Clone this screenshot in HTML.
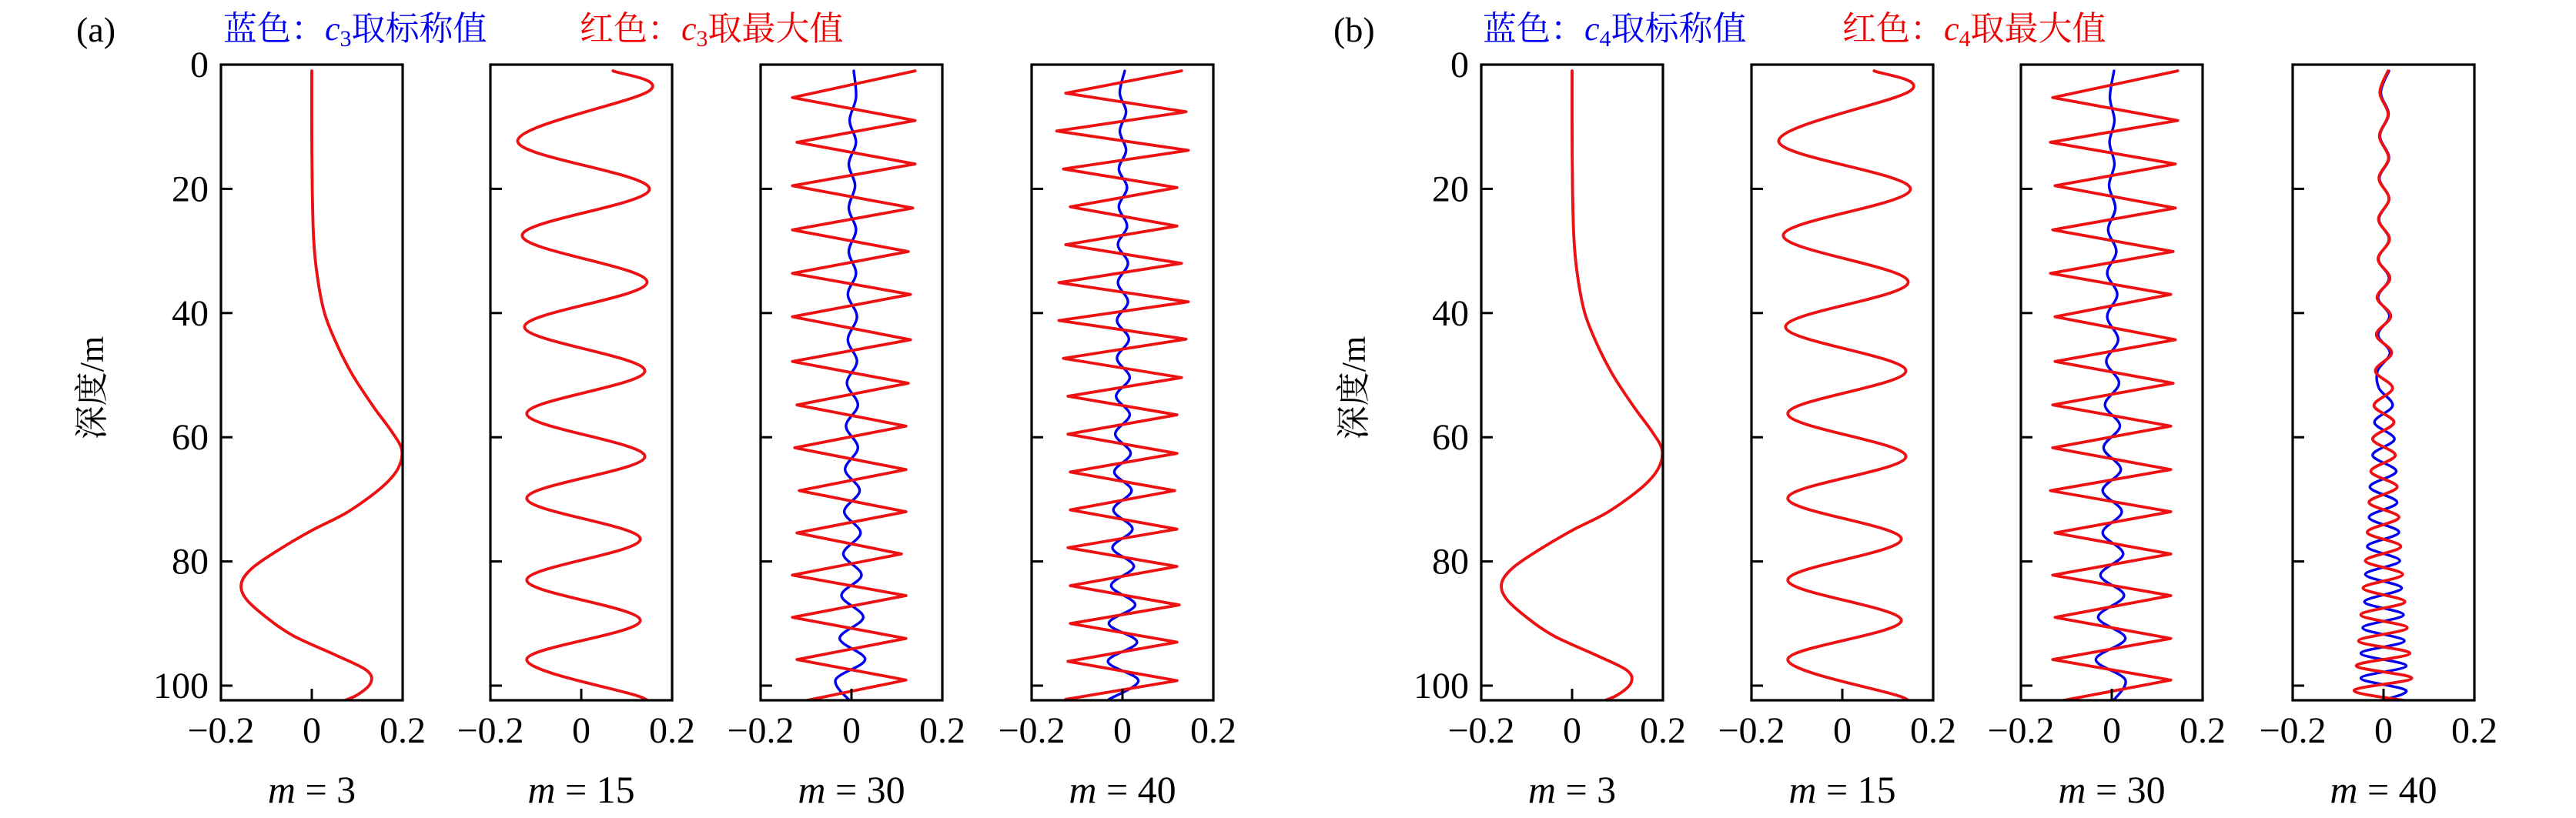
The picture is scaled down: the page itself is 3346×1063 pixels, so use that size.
<!DOCTYPE html>
<html><head><meta charset="utf-8">
<style>
html,body{margin:0;padding:0;background:#fff;}
svg{display:block;}
</style></head>
<body>
<svg id="chart" width="3346" height="1063" viewBox="0 0 3346 1063" xmlns="http://www.w3.org/2000/svg" font-family="'Liberation Serif','Noto Serif CJK SC',serif">
<text x="99" y="54" font-size="46">(a)</text>
<text x="290" y="52" font-size="44" fill="#0000ee">蓝色：<tspan font-style="italic">c</tspan><tspan font-size="30" dy="8">3</tspan><tspan dy="-8">取标称值</tspan></text>
<text x="753" y="52" font-size="44" fill="#ee0000">红色：<tspan font-style="italic">c</tspan><tspan font-size="30" dy="8">3</tspan><tspan dy="-8">取最大值</tspan></text>
<text x="1732" y="54" font-size="46">(b)</text>
<text x="1926" y="52" font-size="44" fill="#0000ee">蓝色：<tspan font-style="italic">c</tspan><tspan font-size="30" dy="8">4</tspan><tspan dy="-8">取标称值</tspan></text>
<text x="2393" y="52" font-size="44" fill="#ee0000">红色：<tspan font-style="italic">c</tspan><tspan font-size="30" dy="8">4</tspan><tspan dy="-8">取最大值</tspan></text>
<text transform="translate(134,504) rotate(-90)" text-anchor="middle" font-size="44">深度/m</text>
<text transform="translate(1773,504) rotate(-90)" text-anchor="middle" font-size="44">深度/m</text>
</svg>
<script>
// ---- data ----
const depthTicks = [0, 20, 40, 60, 80, 100];
const xTicks = [-0.2, 0, 0.2];
const xTickLabels = ["\u22120.2", "0", "0.2"];
const modeLabels = ["3", "15", "30", "40"];

const m3Depths = [1, 10, 20, 28, 34, 40, 45, 50, 55, 59, 62, 65, 68, 72, 75, 78, 81, 83.5, 86, 89, 92, 95, 97.5, 99.5, 101.5, 102.7];
const m3Values = [0, 0, 0.001, 0.004, 0.012, 0.028, 0.055, 0.09, 0.135, 0.175, 0.198, 0.19, 0.155, 0.08, 0.0, -0.07, -0.13, -0.155, -0.145, -0.1, -0.04, 0.05, 0.12, 0.13, 0.1, 0.06];

const m15Depths = [1, 4.2, 12.3, 20.0, 27.5, 35.0, 42.2, 49.3, 56.2, 63.1, 69.8, 76.4, 83.0, 89.5, 95.8, 101.8, 102.7];
const m15Values = [0.07, 0.15, -0.14, 0.15, -0.13, 0.145, -0.125, 0.14, -0.12, 0.14, -0.12, 0.13, -0.12, 0.13, -0.12, 0.13, 0.12];

const m30Depths = [1, 5.3, 9.0, 12.5, 16.0, 19.5, 23.1, 26.6, 30.1, 33.6, 37.0, 40.6, 44.3, 47.8, 51.3, 54.8, 58.2, 61.7, 65.2, 68.6, 72.0, 75.4, 78.8, 82.2, 85.5, 89.0, 92.4, 95.8, 99.1, 102.7];
const m30RedA = [0.14, -0.13, 0.14, -0.12, 0.14, -0.13, 0.135, -0.13, 0.125, -0.13, 0.13, -0.13, 0.13, -0.13, 0.125, -0.12, 0.12, -0.125, 0.12, -0.115, 0.12, -0.12, 0.11, -0.13, 0.12, -0.13, 0.12, -0.12, 0.12, -0.12];
const m30BlueA = [0.005, 0.01, -0.004, 0.01, -0.006, 0.008, -0.006, 0.01, -0.006, 0.01, -0.008, 0.012, -0.008, 0.012, -0.01, 0.014, -0.012, 0.014, -0.014, 0.018, -0.016, 0.02, -0.018, 0.022, -0.022, 0.026, -0.026, 0.03, -0.035, 0.0];
const m30RedB = [0.145, -0.13, 0.145, -0.135, 0.14, -0.125, 0.14, -0.13, 0.135, -0.135, 0.13, -0.125, 0.14, -0.125, 0.135, -0.13, 0.13, -0.13, 0.13, -0.135, 0.13, -0.125, 0.13, -0.13, 0.13, -0.125, 0.13, -0.13, 0.13, -0.13];
const m30BlueB = [0.005, -0.004, 0.006, -0.005, 0.006, -0.006, 0.008, -0.008, 0.01, -0.01, 0.012, -0.01, 0.014, -0.012, 0.016, -0.015, 0.018, -0.018, 0.02, -0.02, 0.022, -0.02, 0.025, -0.025, 0.027, -0.03, 0.03, -0.035, 0.03, 0.0];

const m40Depths = [1, 4.6, 7.6, 10.7, 13.8, 16.8, 19.8, 22.9, 26.0, 29.0, 32.0, 35.1, 38.2, 41.2, 44.2, 47.3, 50.4, 53.4, 56.4, 59.5, 62.6, 65.6, 68.6, 71.7, 74.8, 77.8, 80.8, 83.9, 87.0, 90.0, 93.0, 96.1, 99.2, 102.2];
const m40RedA = [0.13, -0.125, 0.14, -0.145, 0.145, -0.13, 0.12, -0.115, 0.12, -0.125, 0.13, -0.14, 0.145, -0.14, 0.14, -0.13, 0.13, -0.12, 0.12, -0.12, 0.12, -0.115, 0.115, -0.115, 0.12, -0.12, 0.12, -0.115, 0.125, -0.115, 0.12, -0.12, 0.12, -0.125];
const m40BlueA = [0.005, -0.006, 0.008, -0.006, 0.008, -0.008, 0.01, -0.008, 0.01, -0.01, 0.012, -0.01, 0.012, -0.012, 0.014, -0.012, 0.016, -0.014, 0.016, -0.016, 0.018, -0.018, 0.02, -0.02, 0.022, -0.022, 0.025, -0.025, 0.028, -0.03, 0.032, -0.032, 0.035, -0.03];

const b40Depths = [1, 4.5, 8, 11.5, 15, 18.3, 21.6, 24.9, 28.1, 31.3, 34.4, 37.5, 40.5, 43.5, 46.4, 49.3, 52.1, 54.9, 57.6, 60.3, 62.9, 65.5, 68, 70.5, 72.9, 75.3, 77.6, 79.9, 82.1, 84.3, 86.5, 88.6, 90.7, 92.8, 94.8, 96.8, 98.8, 100.8, 102.7];
const b40Red = [0.01, -0.008, 0.01, -0.009, 0.011, -0.01, 0.012, -0.011, 0.013, -0.012, 0.014, -0.014, 0.016, -0.016, 0.018, -0.018, 0.02, -0.021, 0.023, -0.024, 0.026, -0.028, 0.03, -0.032, 0.034, -0.036, 0.038, -0.04, 0.042, -0.045, 0.047, -0.05, 0.052, -0.055, 0.058, -0.06, 0.062, -0.065, 0.075];
const b40Blue = [0.012, -0.006, 0.011, -0.008, 0.012, -0.009, 0.012, -0.01, 0.012, -0.011, 0.012, -0.012, 0.013, -0.012, 0.014, -0.013, -0.01, 0.02, -0.02, 0.024, -0.024, 0.028, -0.03, 0.03, -0.032, 0.034, -0.036, 0.036, -0.04, 0.04, -0.042, 0.044, -0.046, 0.046, -0.05, 0.05, -0.05, 0.05, -0.02];

// ---- layout ----
const svg = document.getElementById('chart');
const NS = 'http://www.w3.org/2000/svg';
const TOP = 84, BOTTOM = 910, W = 236;
const DEPTH_SCALE = 8.07;
const panelLefts = [287, 637, 988, 1340, 1924, 2275, 2625, 2978];
function yOf(d) { return TOP + d * DEPTH_SCALE; }
function xOf(left, v) { return left + W / 2 + v * (W / 0.4); }

function mk(tag, attrs) {
  const e = document.createElementNS(NS, tag);
  for (const k in attrs) e.setAttribute(k, attrs[k]);
  svg.appendChild(e);
  return e;
}
function smoothPath(left, ds, vs) {
  const p = ds.map((d, i) => [xOf(left, vs[i]), yOf(d)]);
  let s = 'M' + p[0][0].toFixed(1) + ',' + p[0][1].toFixed(1);
  for (let i = 0; i < p.length - 1; i++) {
    const p0 = p[Math.max(0, i - 1)], p1 = p[i], p2 = p[i + 1], p3 = p[Math.min(p.length - 1, i + 2)];
    const c1 = [p1[0] + (p2[0] - p0[0]) / 6, p1[1] + (p2[1] - p0[1]) / 6];
    const c2 = [p2[0] - (p3[0] - p1[0]) / 6, p2[1] - (p3[1] - p1[1]) / 6];
    s += ' C' + c1[0].toFixed(1) + ',' + c1[1].toFixed(1) + ' ' + c2[0].toFixed(1) + ',' + c2[1].toFixed(1) + ' ' + p2[0].toFixed(1) + ',' + p2[1].toFixed(1);
  }
  return s;
}
function linePath(left, ds, vs) {
  return ds.map((d, i) => (i ? 'L' : 'M') + xOf(left, vs[i]).toFixed(1) + ',' + yOf(d).toFixed(1)).join(' ');
}
function drawSeries(left, ds, vs, color, width, smooth, name) {
  const e = mk('path', { d: smooth ? smoothPath(left, ds, vs) : linePath(left, ds, vs), fill: 'none', stroke: color, 'stroke-width': width, 'stroke-linejoin': 'round', 'stroke-linecap': 'round', 'clip-path': 'url(#clip' + left + ')' });
  
  
}

const BLUE = '#0000ee', RED = '#ee1111';
const series = [
  [[m3Depths, m3Values, BLUE, true], [m3Depths, m3Values, RED, true]],
  [[m15Depths, m15Values, BLUE, true], [m15Depths, m15Values, RED, true]],
  [[m30Depths, m30BlueA, BLUE, true], [m30Depths, m30RedA, RED, false]],
  [[m40Depths, m40BlueA, BLUE, true], [m40Depths, m40RedA, RED, false]],
  [[m3Depths, m3Values, BLUE, true], [m3Depths, m3Values, RED, true]],
  [[m15Depths, m15Values, BLUE, true], [m15Depths, m15Values, RED, true]],
  [[m30Depths, m30BlueB, BLUE, true], [m30Depths, m30RedB, RED, false]],
  [[b40Depths, b40Blue, BLUE, true], [b40Depths, b40Red, RED, true]]
];

const defs = mk('defs', {});
panelLefts.forEach((left, pi) => {
  const cp = document.createElementNS(NS, 'clipPath');
  cp.setAttribute('id', 'clip' + left);
  const r = document.createElementNS(NS, 'rect');
  r.setAttribute('x', left); r.setAttribute('y', TOP); r.setAttribute('width', W); r.setAttribute('height', BOTTOM - TOP);
  cp.appendChild(r); defs.appendChild(cp);

  const fig = pi < 4 ? 'a' : 'b';
  const m = modeLabels[pi % 4];
  series[pi].forEach((s, si) => {
    drawSeries(left, s[0], s[1], s[2], si === 0 ? 3.4 : 3.8, s[3], (si === 0 ? 'blue' : 'red') + '-curve-' + fig + '-m' + m);
  });

  const frame = mk('rect', { x: left, y: TOP, width: W, height: BOTTOM - TOP, fill: 'none', stroke: '#000', 'stroke-width': 3.2 });
  
  

  depthTicks.forEach(d => {
    if (d > 0) {
      const t = mk('line', { x1: left, x2: left + 15, y1: yOf(d), y2: yOf(d), stroke: '#000', 'stroke-width': 3 });
      
      
    }
    if (pi % 4 === 0) {
      const lb = mk('text', { x: left - 16, y: yOf(d) + 16, 'text-anchor': 'end', 'font-size': 48 });
      lb.textContent = d;
      
      
    }
  });
  xTicks.forEach((v, i) => {
    if (v === 0) {
      const t = mk('line', { x1: xOf(left, v), x2: xOf(left, v), y1: BOTTOM, y2: BOTTOM - 15, stroke: '#000', 'stroke-width': 3 });
      
      
    }
    const lb = mk('text', { x: xOf(left, v), y: 965, 'text-anchor': 'middle', 'font-size': 48 });
    lb.textContent = xTickLabels[i];
    
    
  });
  const ml = mk('text', { x: left + W / 2, y: 1043, 'text-anchor': 'middle', 'font-size': 50 });
  ml.innerHTML = '<tspan font-style="italic">m</tspan> = ' + m;
  
  
});
</script>
</body></html>
